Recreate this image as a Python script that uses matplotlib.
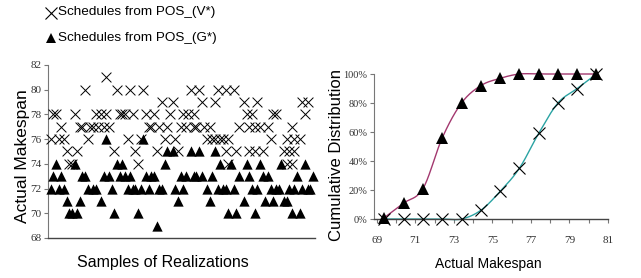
import numpy as np
import matplotlib
matplotlib.use("Agg")
import matplotlib.pyplot as plt
from matplotlib.lines import Line2D

# ---------------- data ----------------
# Left panel: samples of realizations (sample number, actual makespan)
V_samples = [1, 2, 3, 4, 5, 6, 7, 8, 9, 10, 11, 12, 13, 14, 15, 16, 17, 18, 19, 20,
             21, 22, 22, 23, 25, 26, 27, 28, 29, 30, 31, 32, 33, 34, 35, 36, 37, 38, 39, 40,
             41, 42, 43, 44, 45, 46, 47, 48, 49, 50, 51, 52, 53, 54, 55, 55, 56, 57, 58, 59,
             60, 61, 62, 63, 63, 64, 65, 66, 67, 67, 68, 68, 70, 71, 72, 74, 75, 76, 76, 77,
             78, 78, 79, 80, 81, 83, 84, 85, 86, 89, 90, 90, 91, 92, 92, 93, 93, 95, 96, 97, 98]
V_values = [76, 78, 78, 76, 77, 76, 75, 74, 74, 78, 75, 77, 77, 80, 76, 77, 77, 78, 77, 78,
            77, 78, 81, 77, 75, 80, 78, 78, 78, 76, 80, 78, 75, 74, 76, 80, 78, 77, 77, 78,
            75, 77, 79, 76, 77, 78, 79, 76, 75, 77, 78, 77, 78, 80, 77, 78, 77, 80, 79, 77,
            76, 77, 76, 79, 76, 80, 76, 76, 75, 80, 76, 74, 80, 75, 77, 79, 78, 75, 77, 78,
            77, 75, 79, 77, 75, 77, 76, 78, 78, 75, 76, 74, 75, 74, 77, 76, 75, 76, 79, 78, 79]

G_samples = [1, 2, 3, 4, 5, 6, 7, 8, 9, 10, 11, 12, 13, 14, 15, 17, 18, 20, 21, 22,
             23, 24, 25, 26, 27, 28, 29, 30, 31, 32, 33, 34, 35, 36, 37, 38, 39, 40, 41, 42,
             43, 44, 45, 47, 48, 49, 50, 51, 52, 54, 55, 56, 57, 58, 60, 61, 62, 63, 64, 65,
             66, 67, 68, 69, 70, 71, 72, 74, 75, 76, 77, 78, 79, 80, 81, 82, 83, 84, 85, 86,
             87, 88, 89, 90, 91, 92, 93, 94, 95, 96, 97, 98, 99, 100]
G_values = [72, 73, 74, 72, 73, 72, 71, 70, 70, 74, 70, 71, 73, 73, 72, 72, 72, 71, 73, 76,
            73, 72, 70, 74, 73, 74, 73, 72, 73, 72, 72, 70, 72, 76, 73, 72, 73, 73, 69, 72,
            72, 74, 75, 75, 72, 71, 73, 72, 73, 75, 73, 73, 75, 73, 72, 71, 73, 75, 72, 74,
            72, 72, 70, 74, 72, 70, 73, 71, 74, 73, 72, 70, 72, 74, 73, 71, 73, 72, 71, 72,
            72, 74, 71, 71, 72, 70, 72, 73, 70, 72, 74, 72, 72, 73]

# Right panel: cumulative distribution over actual makespan
cdf_makespan = [69.4, 70.4, 71.4, 72.4, 73.4, 74.4, 75.4, 76.4, 77.4, 78.4, 79.4, 80.4]
cdf_G = [0.01, 0.11, 0.21, 0.56, 0.80, 0.92, 0.97, 1.00, 1.00, 1.00, 1.00, 1.00]
cdf_V = [0.00, 0.00, 0.00, 0.00, 0.00, 0.06, 0.19, 0.35, 0.59, 0.80, 0.90, 1.00]

left_yticks = [68, 70, 72, 74, 76, 78, 80, 82]
right_xticks = [69, 71, 73, 75, 77, 79, 81]
right_yticks = [0.0, 0.2, 0.4, 0.6, 0.8, 1.0]
right_yticklabels = ["0%", "20%", "40%", "60%", "80%", "100%"]

legend_labels = ["Schedules from POS_(V*)", "Schedules from POS_(G*)"]

# ---------------- style ----------------
SANS = ["Liberation Sans Narrow", "Liberation Sans", "DejaVu Sans"]
SERIF = ["Liberation Serif", "DejaVu Serif"]
plt.rcParams["font.family"] = SANS
MAG = "#a3386f"
TEAL = "#2aa3a3"
SPINE = "#444444"


def smooth(x, y, n=20):
    """Catmull-Rom curve through the points (rendering of a smoothed line)."""
    x = np.asarray(x, float)
    y = np.asarray(y, float)
    px = np.concatenate([[2 * x[0] - x[1]], x, [2 * x[-1] - x[-2]]])
    py = np.concatenate([[2 * y[0] - y[1]], y, [2 * y[-1] - y[-2]]])
    xs, ys = [], []
    t = np.linspace(0, 1, n)
    for i in range(1, len(px) - 2):
        p0, p1, p2, p3 = [np.array([px[j], py[j]]) for j in (i - 1, i, i + 1, i + 2)]
        m1 = (p2 - p0) / 2
        m2 = (p3 - p1) / 2
        h00 = 2 * t**3 - 3 * t**2 + 1
        h10 = t**3 - 2 * t**2 + t
        h01 = -2 * t**3 + 3 * t**2
        h11 = t**3 - t**2
        pts = (np.outer(h00, p1) + np.outer(h10, m1) + np.outer(h01, p2) + np.outer(h11, m2))
        xs.extend(pts[:, 0])
        ys.extend(pts[:, 1])
    return np.array(xs), np.array(ys)


fig = plt.figure(figsize=(6.41, 2.78), dpi=100)

# ---------------- left panel ----------------
ax1 = fig.add_axes([0.0749, 0.1439, 0.4165, 0.6223])
ax1.scatter(V_samples, V_values, marker="x", s=50, c="black", linewidths=0.7,
            clip_on=False, zorder=3)
ax1.scatter(G_samples, G_values, marker="^", s=55, c="black", linewidths=0,
            clip_on=False, zorder=3)
ax1.set_xlim(0, 100.75)
ax1.set_ylim(68, 82)
ax1.set_yticks(left_yticks)
ax1.set_yticklabels([str(v) for v in left_yticks], family=SERIF, fontsize=8,
                    color="#333333")
ax1.set_xticks([])
for s in ("top", "right"):
    ax1.spines[s].set_visible(False)
ax1.spines["left"].set_color("#777777")
ax1.spines["bottom"].set_color(SPINE)
ax1.spines["left"].set_linewidth(0.8)
ax1.spines["bottom"].set_linewidth(1.0)
ax1.tick_params(axis="y", length=3, width=0.8, color="#777777", pad=1.5)
ax1.set_ylabel("Actual Makespan", fontsize=12.5, va="center")
ax1.yaxis.set_label_coords(-0.097, 0.474)
ax1.set_xlabel("Samples of Realizations", fontsize=11.5, va="center")
ax1.xaxis.set_label_coords(0.43, -0.139)

# ---------------- right panel ----------------
ax2 = fig.add_axes([0.5832, 0.2122, 0.3654, 0.5216])
gx, gy = smooth(cdf_makespan, cdf_G)
vx, vy = smooth(cdf_makespan, cdf_V)
ax2.plot(gx, gy, color=MAG, lw=1.0, clip_on=False, zorder=2)
ax2.plot(vx, vy, color=TEAL, lw=1.0, clip_on=False, zorder=2)
ax2.plot(cdf_makespan, cdf_G, ls="none", marker="^", ms=8.5, color="black",
         mec="black", mew=0, clip_on=False, zorder=4)
ax2.plot(cdf_makespan, cdf_V, ls="none", marker="x", ms=8, color="black",
         mew=0.8, clip_on=False, zorder=3)
ax2.set_xlim(68.85, 81)
ax2.set_ylim(0, 1.0)
ax2.set_xticks(right_xticks)
ax2.set_xticks(np.arange(69, 81.5, 1), minor=True)
ax2.set_xticklabels([str(v) for v in right_xticks], family=SERIF, fontsize=8,
                    color="#333333")
ax2.set_yticks(right_yticks)
ax2.set_yticklabels(right_yticklabels, family=SERIF, fontsize=7.5, color="#333333")
for s in ("top", "right"):
    ax2.spines[s].set_visible(False)
ax2.spines["left"].set_color("#777777")
ax2.spines["bottom"].set_color(SPINE)
ax2.spines["left"].set_linewidth(0.8)
ax2.spines["bottom"].set_linewidth(1.0)
ax2.tick_params(axis="both", which="both", length=3, width=0.8, color="#777777", pad=1.5)
ax2.tick_params(axis="x", which="major", pad=9)
ax2.set_ylabel("Cumulative Distribution", fontsize=12, va="center")
ax2.yaxis.set_label_coords(-0.16, 0.441)
ax2.set_xlabel("Actual Makespan", fontsize=10, va="center")
ax2.xaxis.set_label_coords(0.488, -0.31)

# ---------------- legend (top left) ----------------
ov = fig.add_axes([0, 0, 1, 1], facecolor="none")
ov.set_xlim(0, 641)
ov.set_ylim(278, 0)
ov.axis("off")
ov.add_line(Line2D([50.5], [12.5], marker="x", ms=8, mew=0.8, color="black", ls="none"))
ov.add_line(Line2D([50.5], [37.5], marker="^", ms=7.5, mew=0, color="black", ls="none"))
ov.text(58, 12.5, legend_labels[0], fontsize=9.7, va="center", ha="left")
ov.text(58, 37.5, legend_labels[1], fontsize=9.7, va="center", ha="left")

fig.savefig("out.png", dpi=100)
